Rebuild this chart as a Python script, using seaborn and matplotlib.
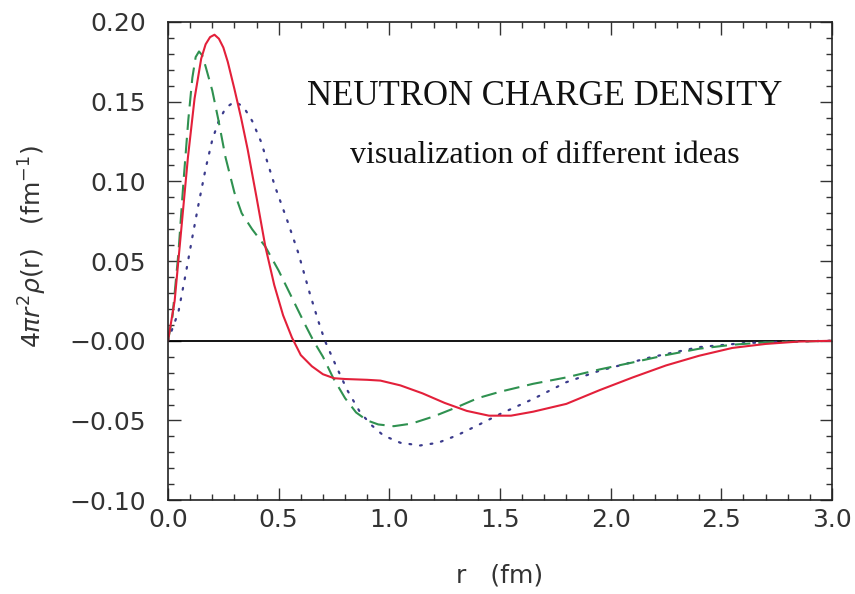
import numpy as np
import pandas as pd
import matplotlib
matplotlib.use("Agg")
import matplotlib.pyplot as plt
import seaborn as sns
from matplotlib.ticker import MultipleLocator, FixedLocator, FixedFormatter

# ================================
# Data
# ================================
r_red = [0.0, 0.03, 0.06, 0.09, 0.12, 0.15, 0.17, 0.19, 0.21, 0.23, 0.25, 0.27,
         0.30, 0.33, 0.36, 0.40, 0.44, 0.48, 0.52, 0.56, 0.60, 0.65, 0.70, 0.75,
         0.80, 0.90, 0.96, 1.05, 1.15, 1.25, 1.35, 1.45, 1.55, 1.65, 1.80, 1.95,
         2.10, 2.25, 2.40, 2.55, 2.70, 2.85, 3.00]
rho_red = [0.0, 0.025, 0.070, 0.115, 0.152, 0.177, 0.186, 0.1905, 0.192, 0.1895,
           0.184, 0.175, 0.158, 0.140, 0.120, 0.090, 0.059, 0.035, 0.016, 0.002,
           -0.009, -0.016, -0.021, -0.0235, -0.024, -0.0245, -0.025, -0.028,
           -0.033, -0.039, -0.044, -0.047, -0.047, -0.0445, -0.0396, -0.031,
           -0.023, -0.0155, -0.0094, -0.0045, -0.002, -0.0005, 0.0]

r_green = [0.0, 0.02, 0.047, 0.07, 0.092, 0.11, 0.125, 0.14, 0.155, 0.17, 0.20,
           0.227, 0.26, 0.30, 0.333, 0.38, 0.44, 0.50, 0.56, 0.62, 0.657, 0.70,
           0.747, 0.80, 0.85, 0.90, 0.95, 1.02, 1.10, 1.20, 1.305, 1.40, 1.50,
           1.65, 1.80, 1.95, 2.10, 2.25, 2.40, 2.55, 2.70, 3.00]
rho_green = [0.0, 0.015, 0.055, 0.100, 0.139, 0.165, 0.178, 0.1815, 0.179, 0.172,
             0.157, 0.139, 0.115, 0.093, 0.080, 0.070, 0.059, 0.044, 0.027, 0.010,
             0.0, -0.010, -0.0235, -0.036, -0.045, -0.050, -0.0525, -0.0536,
             -0.052, -0.0475, -0.0417, -0.036, -0.032, -0.027, -0.023, -0.018,
             -0.0136, -0.009, -0.005, -0.0025, -0.001, 0.0]

r_blue = [0.0, 0.047, 0.08, 0.11, 0.137, 0.17, 0.20, 0.227, 0.26, 0.30, 0.34,
          0.38, 0.42, 0.483, 0.54, 0.589, 0.64, 0.68, 0.709, 0.76, 0.81, 0.868,
          0.92, 0.973, 1.05, 1.139, 1.22, 1.305, 1.40, 1.50, 1.65, 1.80, 1.95,
          2.18, 2.40, 2.60, 2.80, 3.00]
rho_blue = [0.0, 0.018, 0.042, 0.065, 0.085, 0.108, 0.126, 0.137, 0.146, 0.150,
            0.147, 0.138, 0.125, 0.097, 0.075, 0.055, 0.030, 0.012, 0.0, -0.016,
            -0.031, -0.0449, -0.053, -0.0594, -0.064, -0.0657, -0.064, -0.0594,
            -0.053, -0.046, -0.0365, -0.026, -0.0188, -0.0104, -0.004, -0.0015,
            -0.0005, 0.0]

x_ticks = [0.0, 0.5, 1.0, 1.5, 2.0, 2.5, 3.0]
x_tick_labels = ["0.0", "0.5", "1.0", "1.5", "2.0", "2.5", "3.0"]
y_ticks = [-0.10, -0.05, 0.0, 0.05, 0.10, 0.15, 0.20]
y_tick_labels = ["\u22120.10", "\u22120.05", "\u22120.00", "0.05", "0.10", "0.15", "0.20"]

# ================================
# Plot
# ================================
sns.set_style("ticks")
plt.rcParams["font.family"] = ["DejaVu Sans"]

fig = plt.figure(figsize=(8.55, 5.94), dpi=100)
ax = fig.add_axes([0.1965, 0.158, 0.7765, 0.805])

ax.axhline(0, color="black", lw=1.3, zorder=1)

sns.lineplot(x=r_blue, y=rho_blue, ax=ax, color="#3b3b8c", lw=1.6, sort=False,
             estimator=None, linestyle=(0, (0.8, 4.0)), dash_capstyle="round")
sns.lineplot(x=r_green, y=rho_green, ax=ax, color="#2f9150", lw=1.5, sort=False,
             estimator=None, linestyle=(0, (7.5, 3.8)))
sns.lineplot(x=r_red, y=rho_red, ax=ax, color="#e3203a", lw=1.5, sort=False,
             estimator=None)

ax.set_xlim(0, 3.0)
ax.set_ylim(-0.10, 0.20)

ax.xaxis.set_major_locator(FixedLocator(x_ticks))
ax.xaxis.set_major_formatter(FixedFormatter(x_tick_labels))
ax.yaxis.set_major_locator(FixedLocator(y_ticks))
ax.yaxis.set_major_formatter(FixedFormatter(y_tick_labels))
ax.xaxis.set_minor_locator(MultipleLocator(0.1))
ax.yaxis.set_minor_locator(MultipleLocator(0.01))

ax.tick_params(which="both", direction="in", top=True, right=True,
               color="#333333", width=1.0)
ax.tick_params(which="major", length=9, labelsize=18, labelcolor="#333333")
ax.tick_params(axis="x", which="major", pad=6)
ax.tick_params(axis="y", which="major", pad=16)
ax.tick_params(which="minor", length=4.5)
for s in ax.spines.values():
    s.set_linewidth(1.2)
    s.set_color("#222222")

ax.set_xlabel("r   (fm)", fontsize=18, color="#333333")
ax.xaxis.set_label_coords(0.5, -0.132)
ax.set_ylabel(r"$4\pi r^2\rho(\mathrm{r})$   (fm$^{-1}$)", fontsize=18,
              color="#333333")
ax.yaxis.set_label_coords(-0.18, 0.53)

ax.text(0.567, 0.845, "NEUTRON CHARGE DENSITY", transform=ax.transAxes,
        ha="center", va="center", fontsize=25, family="Liberation Serif",
        color="#111111")
ax.text(0.567, 0.72, "visualization of different ideas", transform=ax.transAxes,
        ha="center", va="center", fontsize=23, family="Liberation Serif",
        color="#111111")

fig.savefig("out.png", dpi=100)
